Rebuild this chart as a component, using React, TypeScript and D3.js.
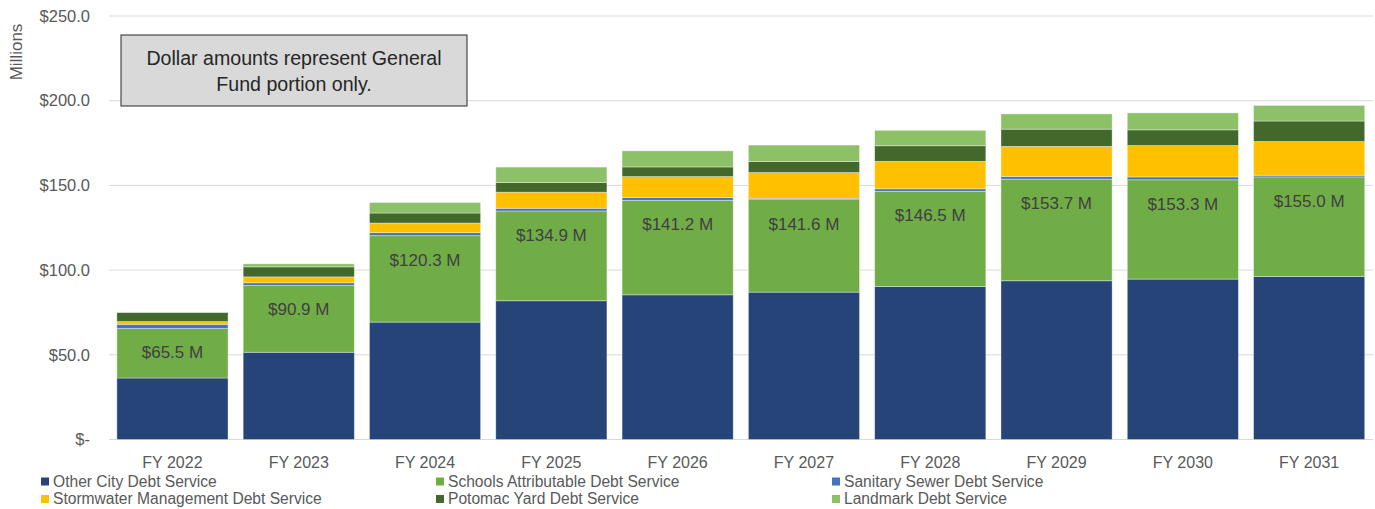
import React, { useMemo } from 'react'
import * as d3 from 'd3'

const years = ['FY 2022', 'FY 2023', 'FY 2024', 'FY 2025', 'FY 2026', 'FY 2027', 'FY 2028', 'FY 2029', 'FY 2030', 'FY 2031']
const otherCity = [36.3, 51.5, 69.3, 81.9, 85.4, 87.0, 90.3, 93.7, 94.7, 96.2]
const schools = [29.2, 39.4, 51.0, 53.0, 55.8, 54.6, 56.2, 60.0, 58.6, 58.8]
const sanitarySewer = [2.5, 1.6, 1.8, 1.6, 1.6, 0.8, 1.5, 1.6, 1.7, 1.0]
const stormwater = [1.6, 3.5, 5.7, 9.5, 12.4, 15.2, 16.2, 17.7, 18.5, 19.9]
const potomacYard = [5.3, 5.9, 5.9, 5.7, 5.7, 6.5, 9.2, 10.2, 9.3, 12.1]
const landmark = [0, 1.8, 6.2, 9.1, 9.5, 9.7, 9.1, 9.0, 10.0, 9.2]
const generalFundLabels = [65.5, 90.9, 120.3, 134.9, 141.2, 141.6, 146.5, 153.7, 153.3, 155.0]
const yTicks = [0, 50, 100, 150, 200, 250]

const seriesNames = [
  'Other City Debt Service',
  'Schools Attributable Debt Service',
  'Sanitary Sewer Debt Service',
  'Stormwater Management Debt Service',
  'Potomac Yard Debt Service',
  'Landmark Debt Service',
]
const seriesValues = [otherCity, schools, sanitarySewer, stormwater, potomacYard, landmark]
const seriesColors = ['#264478', '#70AD47', '#4472C4', '#FFC000', '#43682B', '#8CC168']

const W = 1375
const H = 509
const FONT = '"Liberation Sans", Arial, sans-serif'

const App: React.FC = () => {
  const x = useMemo(
    () => d3.scaleBand<string>().domain(years).range([109.3, 1372.3]).paddingInner(0.12).paddingOuter(0.06),
    []
  )
  const y = useMemo(() => d3.scaleLinear().domain([0, 250]).range([439.5, 16]), [])

  const rows = years.map((yr, i) => {
    const row: Record<string, number | string> = { year: yr }
    seriesNames.forEach((name, s) => (row[name] = seriesValues[s][i]))
    return row
  })
  const stacked = d3.stack<Record<string, number | string>>().keys(seriesNames)(rows as any)

  const fmtTick = (v: number) => (v === 0 ? '$-' : `$${v.toFixed(1)}`)

  const legendCols = [41, 436, 832]
  const legendRows = [481.5, 499]

  return (
    <svg
      width={W}
      height={H}
      style={{ position: 'absolute', left: 0, top: 0, background: '#fff' }}
      fontFamily={FONT}
    >
      {/* gridlines + y axis */}
      {yTicks.map(t => (
        <g key={t}>
          <line x1={109} x2={1373} y1={y(t)} y2={y(t)} stroke="#d9d9d9" strokeWidth={1} />
          <text x={90} y={y(t)} dy="0.35em" textAnchor="end" fontSize={16.5} fill="#595959">
            {fmtTick(t)}
          </text>
        </g>
      ))}
      <text
        transform="translate(22,52) rotate(-90)"
        textAnchor="middle"
        fontSize={17}
        fill="#595959"
      >
        Millions
      </text>

      {/* bars */}
      {stacked.map((layer, s) => (
        <g key={layer.key} fill={seriesColors[s]}>
          {layer.map((d, i) => (
            <rect
              key={i}
              x={x(years[i])}
              width={x.bandwidth()}
              y={y(d[1])}
              height={Math.max(0, y(d[0]) - y(d[1]))}
              stroke="#ffffff"
              strokeOpacity={0.45}
              strokeWidth={0.8}
            />
          ))}
        </g>
      ))}

      {/* data labels */}
      {generalFundLabels.map((v, i) => (
        <text
          key={i}
          x={(x(years[i]) ?? 0) + x.bandwidth() / 2}
          y={y(v) + 24}
          dy="0.35em"
          textAnchor="middle"
          fontSize={17}
          fill="#404040"
        >
          {`$${v.toFixed(1)} M`}
        </text>
      ))}

      {/* x axis labels */}
      {years.map(yr => (
        <text
          key={yr}
          x={(x(yr) ?? 0) + x.bandwidth() / 2}
          y={462}
          dy="0.35em"
          textAnchor="middle"
          fontSize={16}
          fill="#595959"
        >
          {yr}
        </text>
      ))}

      {/* annotation */}
      <rect x={121} y={35} width={346} height={71} fill="#d9d9d9" stroke="#262626" strokeWidth={1} />
      <text x={294} y={58} dy="0.35em" textAnchor="middle" fontSize={19.6} fill="#262626">
        Dollar amounts represent General
      </text>
      <text x={294} y={84} dy="0.35em" textAnchor="middle" fontSize={19.6} fill="#262626">
        Fund portion only.
      </text>

      {/* legend */}
      {seriesNames.map((name, s) => {
        const lx = legendCols[s % 3]
        const ly = legendRows[Math.floor(s / 3)]
        return (
          <g key={name}>
            <rect x={lx} y={ly - 4} width={8} height={8} fill={seriesColors[s]} />
            <text x={lx + 12} y={ly} dy="0.35em" fontSize={15.6} fill="#595959">
              {name}
            </text>
          </g>
        )
      })}
    </svg>
  )
}

export default App
